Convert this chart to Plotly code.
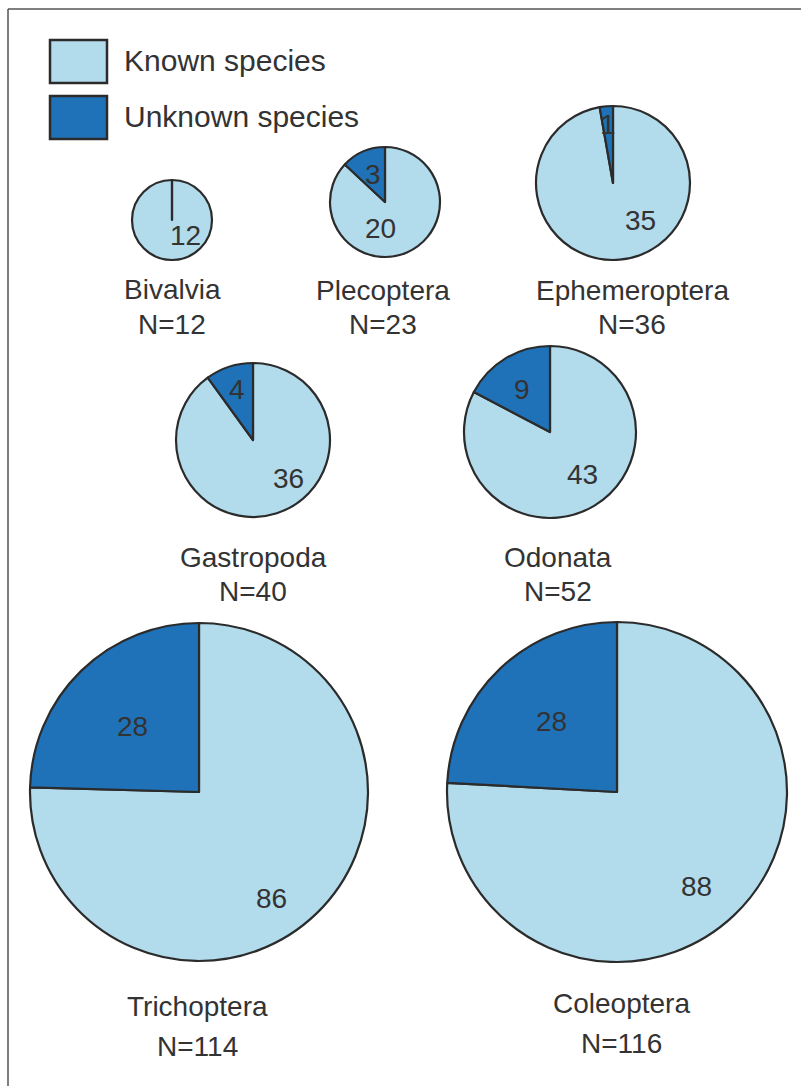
import plotly.graph_objects as go

W, H = 801, 1086

# ---- data ----
groups = ["Bivalvia", "Plecoptera", "Ephemeroptera", "Gastropoda", "Odonata", "Trichoptera", "Coleoptera"]
unknown = [0, 3, 1, 4, 9, 28, 28]
known = [12, 20, 35, 36, 43, 86, 88]
totals = [12, 23, 36, 40, 52, 114, 116]
legend_labels = ["Known species", "Unknown species"]

# ---- layout (pixel geometry) ----
centers = [(172, 220), (385, 202), (613, 183), (253, 440), (550, 432), (199, 792), (617, 792)]
radii = [40, 55, 77, 77, 86, 169, 170]
unk_pos = [None, (373, 174), (608, 124), (237, 389), (522, 389), (132, 726), (551, 721)]
kn_pos = [(185, 235), (380, 228), (640, 220), (288, 478), (582, 474), (271, 898), (696, 886)]
title_pos = [(172, 289), (383, 290), (632, 290), (253, 557), (558, 557), (197, 1006), (621, 1003)]
n_dy = [35, 35, 35, 34, 34, 40, 40]

C_KNOWN = "#b2dbeb"
C_UNK = "#1f72b8"
C_LINE = "#2b2b2b"
C_TEXT = "#333333"
FONT = "Liberation Sans, Arial, sans-serif"

def px(x):
    return x / W

def py(y):
    return 1 - y / H

def txt(x, y, s, size=28, anchor="center"):
    return dict(x=px(x), y=py(y), xref="paper", yref="paper", xanchor=anchor, yanchor="middle",
                text=s, showarrow=False, font=dict(size=size, color=C_TEXT, family=FONT))

fig = go.Figure()
annotations = []
shapes = []

for i, g in enumerate(groups):
    cx, cy = centers[i]
    r = radii[i]
    fig.add_trace(go.Pie(
        labels=["Known species", "Unknown species"],
        values=[known[i], unknown[i]],
        sort=False,
        direction="clockwise",
        rotation=0,
        marker=dict(colors=[C_KNOWN, C_UNK], line=dict(color=C_LINE, width=2.2)),
        textinfo="none",
        hoverinfo="label+value",
        showlegend=False,
        domain=dict(x=[px(cx - r), px(cx + r)], y=[py(cy + r), py(cy - r)]),
    ))
    if unknown[i] > 0:
        ux, uy = unk_pos[i]
        annotations.append(txt(ux, uy, str(unknown[i])))
    else:
        # zero-width unknown slice: radial line at 12 o'clock
        shapes.append(dict(type="line", xref="paper", yref="paper",
                           x0=px(cx), y0=py(cy), x1=px(cx), y1=py(cy - r),
                           line=dict(color=C_LINE, width=2.2)))
    kx, ky = kn_pos[i]
    annotations.append(txt(kx, ky, str(known[i])))
    tx, ty = title_pos[i]
    annotations.append(txt(tx, ty, g))
    annotations.append(txt(tx, ty + n_dy[i], f"N={totals[i]}"))

# legend (manual)
leg_boxes = [(50, 40, 107, 83), (50, 96, 107, 139)]
leg_colors = [C_KNOWN, C_UNK]
for (x0, y0, x1, y1), col, lab in zip(leg_boxes, leg_colors, legend_labels):
    shapes.append(dict(type="rect", xref="paper", yref="paper",
                       x0=px(x0), x1=px(x1), y0=py(y1), y1=py(y0),
                       fillcolor=col, line=dict(color=C_LINE, width=2.5)))
    annotations.append(txt(122, (y0 + y1) / 2 - 1, lab, size=30, anchor="left"))

# frame lines (top and left)
shapes.append(dict(type="line", xref="paper", yref="paper", x0=px(8), x1=1, y0=py(9), y1=py(9),
                   line=dict(color="#555555", width=1.5)))
shapes.append(dict(type="line", xref="paper", yref="paper", x0=px(8), x1=px(8), y0=py(9), y1=0,
                   line=dict(color="#555555", width=1.5)))

fig.update_layout(
    width=W, height=H,
    margin=dict(l=0, r=0, t=0, b=0),
    paper_bgcolor="white",
    plot_bgcolor="white",
    showlegend=False,
    annotations=annotations,
    shapes=shapes,
)

fig.write_html("out.html", config={"displayModeBar": False},
               post_script="document.body.style.margin='0';document.body.style.overflow='hidden';")
